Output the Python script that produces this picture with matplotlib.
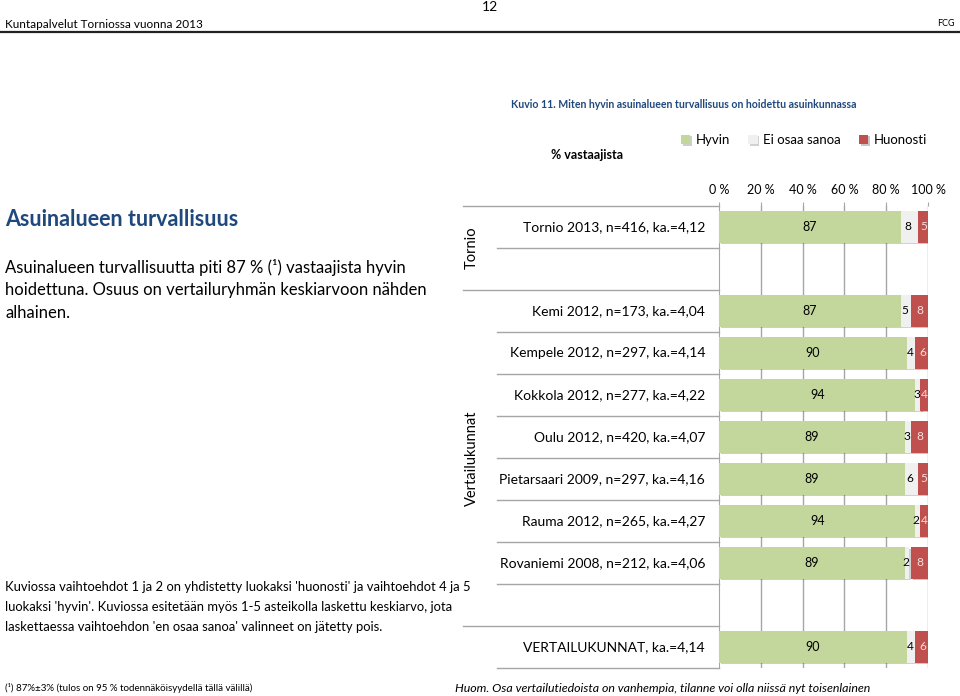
import matplotlib
matplotlib.use("Agg")
import matplotlib.pyplot as plt
import matplotlib.transforms as mtransforms
from matplotlib import patheffects
from matplotlib.lines import Line2D

plt.rcParams['font.family'] = ['Lato', 'DejaVu Sans']

# --- data ---
labels = ['Tornio 2013, n=416, ka.=4,12', '',
          'Kemi 2012, n=173, ka.=4,04',
          'Kempele 2012, n=297, ka.=4,14',
          'Kokkola 2012, n=277, ka.=4,22',
          'Oulu 2012, n=420, ka.=4,07',
          'Pietarsaari 2009, n=297, ka.=4,16',
          'Rauma 2012, n=265, ka.=4,27',
          'Rovaniemi 2008, n=212, ka.=4,06', '',
          'VERTAILUKUNNAT, ka.=4,14']
hyvin = [87, None, 87, 90, 94, 89, 89, 94, 89, None, 90]
eos = [8, None, 5, 4, 3, 3, 6, 2, 2, None, 4]
huonosti = [5, None, 8, 6, 4, 8, 5, 4, 8, None, 6]
series_names = ['Hyvin', 'Ei osaa sanoa', 'Huonosti']
ticks = [0, 20, 40, 60, 80, 100]

c_green = '#C3D69B'
c_grey = '#F0F0F0'
c_red = '#C0504D'
c_blue = '#1F497D'
grid_c = '#A6A6A6'

W, H = 960, 696
fig = plt.figure(figsize=(W / 100, H / 100), dpi=100)


def fx(x):
    return x / W


def fy(y):
    return 1 - y / H


# header
fig.text(fx(490), fy(7), '12', ha='center', va='center', fontsize=10)
fig.text(fx(5), fy(24), 'Kuntapalvelut Torniossa vuonna 2013', ha='left', va='center', fontsize=8.5)
fig.text(fx(955), fy(24), 'FCG', ha='right', va='center', fontsize=6.5)
fig.add_artist(Line2D([0, 1], [fy(32), fy(32)], color='#222222', lw=1.6))

fig.text(fx(511), fy(105), 'Kuvio 11. Miten hyvin asuinalueen turvallisuus on hoidettu asuinkunnassa',
         ha='left', va='center', fontsize=7.6, color=c_blue, fontweight='bold')
fig.text(fx(587), fy(155), '% vastaajista', ha='center', va='center', fontsize=9, fontweight='bold')

# left text
fig.text(fx(5), fy(219), 'Asuinalueen turvallisuus', ha='left', va='center',
         fontsize=15.5, color=c_blue, fontweight='bold')
para = ['Asuinalueen turvallisuutta piti 87 % (\u00b9) vastaajista hyvin',
        'hoidettuna. Osuus on vertailuryhmän keskiarvoon nähden',
        'alhainen.']
for i, line in enumerate(para):
    fig.text(fx(5), fy(268 + 22.5 * i), line, ha='left', va='center', fontsize=12)

notes = ["Kuviossa vaihtoehdot 1 ja 2 on yhdistetty luokaksi 'huonosti' ja vaihtoehdot 4 ja 5",
         "luokaksi 'hyvin'. Kuviossa esitetään myös 1-5 asteikolla laskettu keskiarvo, jota",
         "laskettaessa vaihtoehdon 'en osaa sanoa' valinneet on jätetty pois."]
for i, line in enumerate(notes):
    fig.text(fx(5), fy(587 + 20 * i), line, ha='left', va='center', fontsize=9.4)

fig.text(fx(5), fy(688), '(\u00b9) 87%\u00b13% (tulos on 95 % todennäköisyydellä tällä välillä)',
         ha='left', va='center', fontsize=7.0)
fig.text(fx(455), fy(688), 'Huom. Osa vertailutiedoista on vanhempia, tilanne voi olla niissä nyt toisenlainen',
         ha='left', va='center', fontsize=8.9, style='italic')

# chart
ax = fig.add_axes([fx(719), fy(668), (928 - 719) / W, (668 - 206) / H])
y = list(range(len(labels)))
shadow = [patheffects.SimplePatchShadow(offset=(1.2, -1.2), alpha=0.25), patheffects.Normal()]
handles = []
for vals, col, left_vals, name in [(hyvin, c_green, None, series_names[0]),
                                   (eos, c_grey, 'h', series_names[1]),
                                   (huonosti, c_red, 'he', series_names[2])]:
    ys, ws, ls = [], [], []
    for i, v in enumerate(vals):
        if v is None:
            continue
        left = 0
        if left_vals == 'h':
            left = hyvin[i]
        elif left_vals == 'he':
            left = 100 - v
        ys.append(i)
        ws.append(v)
        ls.append(left)
    bars = ax.barh(ys, ws, left=ls, height=0.74, color=col, zorder=3, label=name)
    for b in bars:
        b.set_path_effects(shadow)
    handles.append(bars)

# value labels
for i in y:
    if hyvin[i] is None:
        continue
    ax.text(hyvin[i] / 2, i, str(hyvin[i]), ha='center', va='center', fontsize=9, zorder=5)
    ax.text(hyvin[i] + eos[i] / 2 - 0.6, i, str(eos[i]), ha='center', va='center', fontsize=8.6, zorder=5)
    ax.text(100 - huonosti[i] / 2 + 0.3, i, str(huonosti[i]), ha='center', va='center', fontsize=8.6,
            color='#F6E0DF', zorder=5)

ax.set_xlim(0, 100)
ax.set_ylim(len(labels) - 0.5, -0.5)
ax.set_xticks(ticks)
ax.set_xticklabels([f'{t} %' for t in ticks])
ax.xaxis.tick_top()
ax.tick_params(axis='x', length=3, color=grid_c, pad=4, labelsize=9)
ax.set_yticks([])
for t in ticks[1:]:
    ax.axvline(t, color=grid_c, lw=1, zorder=1)
for s in ['top', 'right', 'bottom']:
    ax.spines[s].set_visible(False)
ax.spines['left'].set_color(grid_c)

# category table at left
trans = mtransforms.blended_transform_factory(ax.transAxes, ax.transData)
x_inner = (497 - 719) / 209
x_group = (463 - 719) / 209
x_lab = (705 - 719) / 209
for i, lab in enumerate(labels):
    if lab:
        ax.text(x_lab, i, lab, transform=trans, ha='right', va='center', fontsize=10)
group_lines = [-0.5, 1.5, 9.5]
inner_lines = [0.5, 2.5, 3.5, 4.5, 5.5, 6.5, 7.5, 8.5, 10.5]
for g in group_lines:
    ax.plot([x_group, 0], [g, g], transform=trans, color=grid_c, lw=1, clip_on=False)
for g in inner_lines:
    ax.plot([x_inner, 0], [g, g], transform=trans, color=grid_c, lw=1, clip_on=False)
x_grp_lab = (472 - 719) / 209
ax.text(x_grp_lab, 0.5, 'Tornio', transform=trans, rotation=90, ha='center', va='center', fontsize=10.5)
ax.text(x_grp_lab, 5.5, 'Vertailukunnat', transform=trans, rotation=90, ha='center', va='center',
        fontsize=10.5)

fig.legend(handles=handles, labels=series_names, loc='center', bbox_to_anchor=(fx(804), fy(140)),
           ncol=3, frameon=False, fontsize=9.5, handlelength=0.7, handleheight=0.7,
           handletextpad=0.4, columnspacing=1.4)

fig.savefig('out.png', dpi=100)
